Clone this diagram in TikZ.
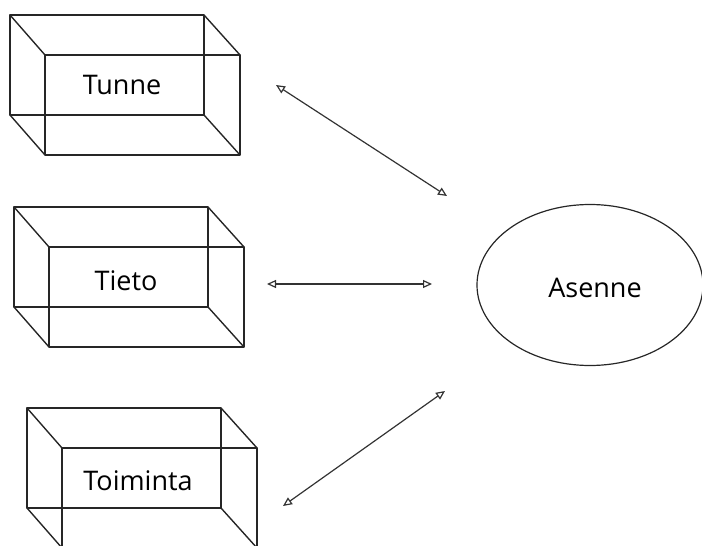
\documentclass[tikz,border=0pt]{standalone}
\usepackage{fontspec}
\setmainfont{Open Sans}
\usetikzlibrary{arrows.meta,shapes.geometric}
\begin{document}
\begin{tikzpicture}[x=1pt,y=-1pt,
  boxline/.style={line width=1.4pt, draw=black!85, line join=round},
  lbl/.style={font=\fontsize{27}{31}\selectfont, inner sep=0pt, text=black},
  link/.style={line width=1.2pt, draw=black!80,
    {Triangle[open,length=9pt,width=8pt,line width=1.2pt]}-{Triangle[open,length=9pt,width=8pt,line width=1.2pt]}},
  ]
\useasboundingbox (0,0) rectangle (702,546);
% cuboids
\foreach \x/\y in {10/15, 14/207, 27/408} {
  \draw[boxline] (\x,\y) rectangle ++(194,100);
  \draw[boxline] (\x+35,\y+40) rectangle ++(195,100);
  \draw[boxline] (\x,\y) -- ++(35,40);
  \draw[boxline] (\x+194,\y) -- ++(36,40);
  \draw[boxline] (\x,\y+100) -- ++(35,40);
  \draw[boxline] (\x+194,\y+100) -- ++(36,40);
}
\node[lbl] (tunne) at (122,85) {Tunne};
\node[lbl] (tieto) at (126,281) {Tieto};
\node[lbl] (toiminta) at (138,481) {Toiminta};
% ellipse
\node[ellipse, draw=black!85, line width=1.2pt, minimum width=226pt, minimum height=161pt, inner sep=0pt] (asenne) at (590,285) {};
\node[lbl] (asennetxt) at (595,288) {Asenne};
% connectors
\coordinate (a1s) at (276,85);
\coordinate (a1e) at (447,196);
\coordinate (a2s) at (267,284);
\coordinate (a2e) at (432,284);
\coordinate (a3s) at (445,391);
\coordinate (a3e) at (283,506);
\draw[link] (a1s) -- (a1e);
\draw[link] (a2s) -- (a2e);
\draw[link] (a3s) -- (a3e);
\end{tikzpicture}
\end{document}
